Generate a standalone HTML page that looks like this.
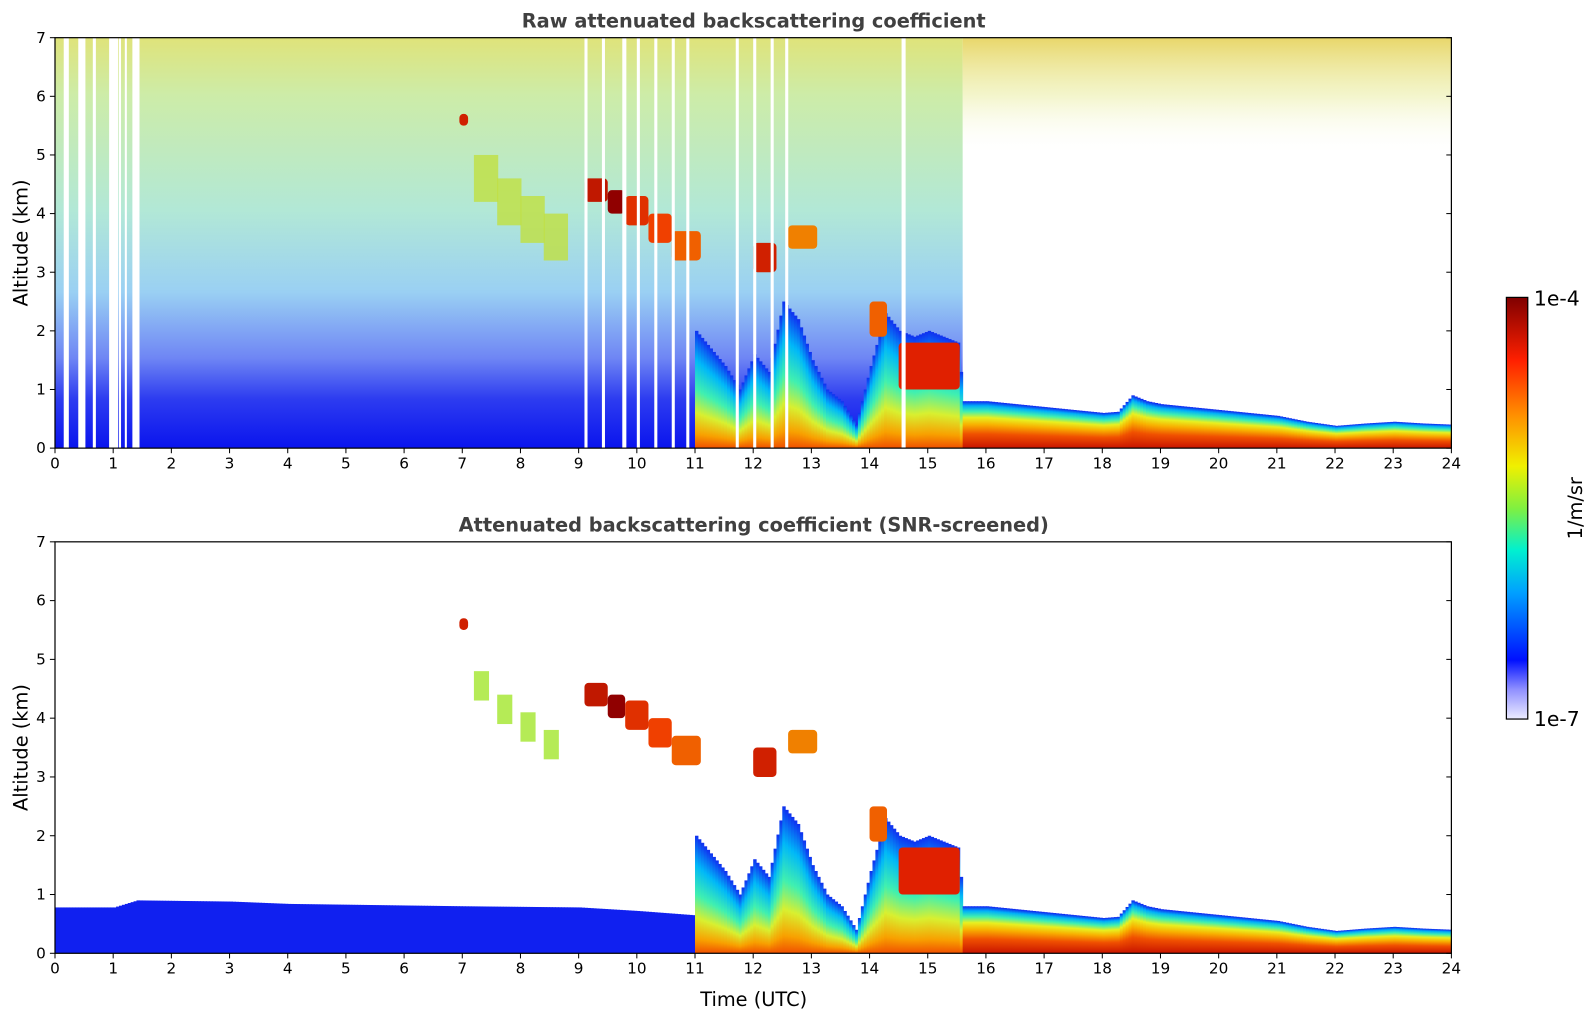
<!DOCTYPE html>
<html><head><meta charset="utf-8">
<style>
html,body{margin:0;padding:0;background:#fff;overflow:hidden;width:1595px;height:1020px;}
svg{display:block;}
svg text{font-family:"DejaVu Sans","Liberation Sans",sans-serif;}
</style></head>
<body>
<svg id="chart" width="1595" height="1020" viewBox="0 0 1566 1001.5" preserveAspectRatio="none" xmlns="http://www.w3.org/2000/svg">
<defs>
<linearGradient id="noiseGrad" x1="0" y1="0" x2="0" y2="1">
<stop offset="0" stop-color="#dfe37a"/>
<stop offset="0.14" stop-color="#cdeca8"/>
<stop offset="0.42" stop-color="#b2e8d6"/>
<stop offset="0.62" stop-color="#9ad0f3"/>
<stop offset="0.78" stop-color="#6f86f4"/>
<stop offset="0.88" stop-color="#2d3cf0"/>
<stop offset="1" stop-color="#0a14ee"/>
</linearGradient>
<linearGradient id="topNoise" x1="0" y1="0" x2="0" y2="1">
<stop offset="0" stop-color="#e6d25a" stop-opacity="0.9"/>
<stop offset="0.5" stop-color="#e8ec9a" stop-opacity="0.5"/>
<stop offset="1" stop-color="#ffffff" stop-opacity="0"/>
</linearGradient>
<linearGradient id="blGrad" x1="0" y1="1" x2="0" y2="0">
<stop offset="0" stop-color="#c81400"/>
<stop offset="0.3" stop-color="#f05000"/>
<stop offset="0.5" stop-color="#f8b000"/>
<stop offset="0.65" stop-color="#e8f020"/>
<stop offset="0.78" stop-color="#40f0b0"/>
<stop offset="0.9" stop-color="#00b0f8"/>
<stop offset="1" stop-color="#1020f0"/>
</linearGradient>
<linearGradient id="plumeGrad" x1="0" y1="1" x2="0" y2="0">
<stop offset="0" stop-color="#f05000"/>
<stop offset="0.12" stop-color="#f8a000"/>
<stop offset="0.3" stop-color="#d8f030"/>
<stop offset="0.5" stop-color="#40f0b0"/>
<stop offset="0.75" stop-color="#00b8f8"/>
<stop offset="1" stop-color="#1030f0"/>
</linearGradient>
<linearGradient id="cbGrad" x1="0" y1="1" x2="0" y2="0">
<stop offset="0" stop-color="#ececff"/>
<stop offset="0.07" stop-color="#9090ff"/>
<stop offset="0.14" stop-color="#0010ff"/>
<stop offset="0.3" stop-color="#00a0ff"/>
<stop offset="0.4" stop-color="#00f0d0"/>
<stop offset="0.5" stop-color="#80f040"/>
<stop offset="0.6" stop-color="#f0f000"/>
<stop offset="0.72" stop-color="#ff9000"/>
<stop offset="0.85" stop-color="#ff2000"/>
<stop offset="1" stop-color="#800000"/>
</linearGradient>
</defs>
</svg>
<script>
// ---- data ----
const profTimes = [11,11.25,11.5,11.75,12,12.25,12.5,12.75,13,13.25,13.5,13.75,14,14.25,14.5,14.75,15,15.25,15.5,15.6,15.75,16,16.5,17,17.5,18,18.25,18.5,18.75,19,19.5,20,20.5,21,21.5,22,22.5,23,23.5,24];
const profTops  = [2.0,1.7,1.4,1.0,1.6,1.3,2.5,2.2,1.5,1.0,0.8,0.4,1.4,2.3,2.0,1.9,2.0,1.9,1.8,0.8,0.8,0.8,0.75,0.7,0.65,0.6,0.62,0.9,0.8,0.75,0.7,0.65,0.6,0.55,0.45,0.38,0.42,0.45,0.42,0.4];
const clouds = [ // [t0,t1,base,top,color]
 [6.95,7.1,5.5,5.7,"#d02000"],
 [9.1,9.5,4.2,4.6,"#c01800"],
 [9.5,9.8,4.0,4.4,"#900000"],
 [9.8,10.2,3.8,4.3,"#e03000"],
 [10.2,10.6,3.5,4.0,"#f04000"],
 [10.6,11.1,3.2,3.7,"#f06000"],
 [12.0,12.4,3.0,3.5,"#d02000"],
 [12.6,13.1,3.4,3.8,"#f08000"],
 [14.5,15.55,1.0,1.8,"#e02000"],
 [14.0,14.3,1.9,2.5,"#f06000"]
];
const slantT = [7.2,7.6,8.0,8.4,8.8];
const slantTop = [4.6,4.2,3.9,3.6,3.2];
const gapTimes = [0.15,0.4,0.65,0.93,1.1,1.2,1.33,9.1,9.4,9.75,10.0,10.3,10.6,10.85,11.7,12.0,12.3,12.55,14.55];
const gapWidths = [5,7,3,9,2,2,7,3,3,4,3,3,3,3,3,3,3,3,4];
const lowTimes = [0,1,1.4,3,4,7,9,10,11.6];
const lowTops  = [0.78,0.78,0.9,0.88,0.84,0.8,0.78,0.72,0.6];
const xTicks = [0,1,2,3,4,5,6,7,8,9,10,11,12,13,14,15,16,17,18,19,20,21,22,23,24];
const yTicks = [0,1,2,3,4,5,6,7];

const NS="http://www.w3.org/2000/svg";
const svg=document.getElementById('chart');
const X0=54,X1=1425;
function xs(t){return X0+(X1-X0)*t/24;}
function mk(tag,attrs,parent){const e=document.createElementNS(NS,tag);for(const k in attrs)e.setAttribute(k,attrs[k]);(parent||svg).appendChild(e);return e;}
function interp(ts,vs,t){if(t<=ts[0])return vs[0];for(let i=1;i<ts.length;i++){if(t<=ts[i]){const f=(t-ts[i-1])/(ts[i]-ts[i-1]);return vs[i-1]+f*(vs[i]-vs[i-1]);}}return vs[vs.length-1];}

function panel(yTop,yBot,raw,title,name){
  const ys=h=>yBot-(yBot-yTop)*h/7;
  const g=mk('g',{});
  
  
  if(raw){
    const n=mk('rect',{x:X0,y:yTop,width:xs(15.6)-X0,height:yBot-yTop,fill:'url(#noiseGrad)'},g);
    
    
    const n2=mk('rect',{x:xs(15.6),y:yTop,width:X1-xs(15.6),height:ys(5)-yTop,fill:'url(#topNoise)'},g);
    
    
    for(let i=0;i<slantT.length-1;i++){
      const r=mk('rect',{x:xs(slantT[i]),y:ys(slantTop[i]+0.4),width:xs(slantT[i+1])-xs(slantT[i])+1,height:ys(slantTop[i]-0.4)-ys(slantTop[i]+0.4),fill:'#c0e040',opacity:0.8},g);
      
      
    }
  } else {
    for(let t=0;t<11.6;t+=0.05){
      const h=interp(lowTimes,lowTops,t);
      const r=mk('rect',{x:xs(t),y:ys(h),width:xs(0.05)-xs(0)+0.5,height:yBot-ys(h),fill:'#1020f0'},g);
      
      
    }
    for(let i=0;i<slantT.length-1;i++){
      const r=mk('rect',{x:xs(slantT[i]),y:ys(slantTop[i]+0.2),width:xs(slantT[i+1])-xs(slantT[i])-8,height:ys(slantTop[i]-0.3)-ys(slantTop[i]+0.2),fill:'#a8e838',opacity:0.85},g);
      
      
    }
  }
  const step=0.05;
  for(let t=11;t<24;t+=step){
    const h=interp(profTimes,profTops,t);
    const r=mk('rect',{x:xs(t),y:ys(h),width:xs(step)-xs(0)+0.5,height:yBot-ys(h),fill:t<15.6?'url(#plumeGrad)':'url(#blGrad)'},g);
    
    
  }
  clouds.forEach(c=>{
    const r=mk('rect',{x:xs(c[0]),y:ys(c[3]),width:xs(c[1])-xs(c[0]),height:ys(c[2])-ys(c[3]),fill:c[4],rx:4},g);
    
    
  });
  if(raw){
    gapTimes.forEach((t,i)=>{
      const r=mk('rect',{x:xs(t),y:yTop,width:gapWidths[i],height:yBot-yTop,fill:'#fff'},g);
      
      
    });
  }
  const fr=mk('rect',{x:X0,y:yTop,width:X1-X0,height:yBot-yTop,fill:'none',stroke:'#000','stroke-width':1.2},g);
  
  
  xTicks.forEach(t=>{
    mk('line',{x1:xs(t),x2:xs(t),y1:yBot,y2:yBot+5,stroke:'#000'},g);
    const tx=mk('text',{x:xs(t),y:yBot+20,'font-size':15,'text-anchor':'middle'},g);
    tx.textContent=t;
    
    
  });
  yTicks.forEach(h=>{
    mk('line',{x1:X0-5,x2:X0,y1:ys(h),y2:ys(h),stroke:'#000'},g);
    mk('line',{x1:X1-5,x2:X1,y1:ys(h),y2:ys(h),stroke:'#000'},g);
    const tx=mk('text',{x:X0-9,y:ys(h)+5,'font-size':15,'text-anchor':'end'},g);
    tx.textContent=h;
    
    
  });
  const tt=mk('text',{x:740,y:yTop-10,'font-size':19,'font-weight':'bold','text-anchor':'middle',fill:'#404040'},g);
  tt.textContent=title;
  
  
  const yl=mk('text',{x:0,y:0,'font-size':19,'text-anchor':'middle',transform:`translate(27,${(yTop+yBot)/2}) rotate(-90)`},g);
  yl.textContent='Altitude (km)';
  
  
}
panel(37,440,true,'Raw attenuated backscattering coefficient','raw-panel');
panel(532,936,false,'Attenuated backscattering coefficient (SNR-screened)','screened-panel');
const xl=mk('text',{x:740,y:988,'font-size':19,'text-anchor':'middle'});
xl.textContent='Time (UTC)';


const cb=mk('rect',{x:1479,y:292,width:21,height:414,fill:'url(#cbGrad)',stroke:'#000','stroke-width':1.2});


const c1=mk('text',{x:1506,y:300,'font-size':20});
c1.textContent='1e-4';


const c2=mk('text',{x:1506,y:713,'font-size':20});
c2.textContent='1e-7';


const c3=mk('text',{x:0,y:0,'font-size':19,'text-anchor':'middle',transform:'translate(1553,499) rotate(-90)'});
c3.textContent='1/m/sr';


</script>
</body></html>
